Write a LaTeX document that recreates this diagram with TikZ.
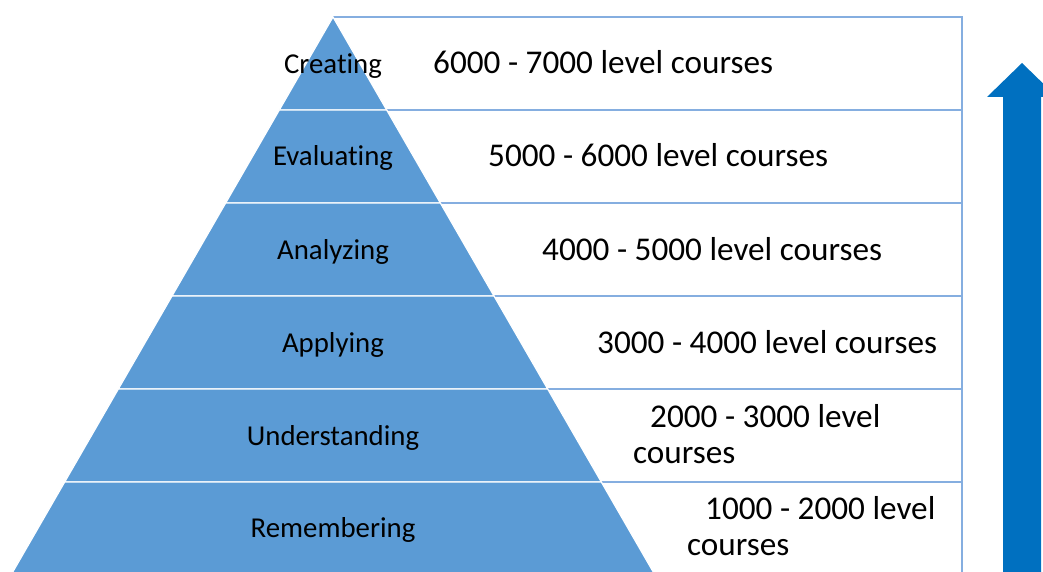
\documentclass[tikz,border=0pt]{standalone}
\usepackage{fontspec}
\setmainfont[Ligatures=NoCommon]{Carlito}
\definecolor{pyrblue}{HTML}{5B9BD5}
\definecolor{tabline}{HTML}{85AEE0}
\definecolor{arrblue}{HTML}{0070C0}
\begin{document}
\begin{tikzpicture}[x=1pt,y=-1pt,
  tline/.style={draw=tabline,line width=2.4pt},
  band/.style={fill=pyrblue,draw=white,line width=1.2pt},
  plabel/.style={font=\fontsize{28.8}{34}\selectfont,text=black,inner sep=0pt,anchor=base},
  tlabel/.style={font=\fontsize{33.2}{36}\selectfont,text=black,inner sep=0pt,anchor=base west}]
\useasboundingbox (0,0) rectangle (1043,572);
\fill[white] (0,0) rectangle (1043,572);
% table
\draw[tline] (333,17) -- (962,17) -- (962,600);
\foreach \y in {110,203,296,389,482}{\draw[tline] (333,\y) -- (962,\y);}
% pyramid bands
\foreach \t/\b in {17/110,110/203,203/296,296/389,389/482,482/620}{
  \path[band] ({333-0.577*(\t-17)},\t) -- ({333+0.577*(\t-17)},\t) -- ({333+0.577*(\b-17)},\b) -- ({333-0.577*(\b-17)},\b) -- cycle;
}
% pyramid labels
\node[plabel] (p1) at (333,74) {Creating};
\node[plabel] (p2) at (333,166) {Evaluating};
\node[plabel] (p3) at (333,259) {Analyzing};
\node[plabel] (p4) at (333,352) {Applying};
\node[plabel] (p5) at (333,445) {Understanding};
\node[plabel] (p6) at (333,537) {Remembering};
% table labels
\node[tlabel] (t1) at (433,74) {6000 - 7000 level courses};
\node[tlabel] (t2) at (488,167) {5000 - 6000 level courses};
\node[tlabel] (t3) at (542,260) {4000 - 5000 level courses};
\node[tlabel] (t4) at (597,353) {3000 - 4000 level courses};
\node[tlabel] (t5a) at (650,427) {2000 - 3000 level};
\node[tlabel] (t5b) at (633,463) {courses};
\node[tlabel] (t6a) at (705,519) {1000 - 2000 level};
\node[tlabel] (t6b) at (687,555) {courses};
% arrow
\fill[arrblue] (1003,600) -- (1003,97) -- (987,97) -- (1022,63) -- (1057,97) -- (1041,97) -- (1041,600) -- cycle;
\end{tikzpicture}
\end{document}
